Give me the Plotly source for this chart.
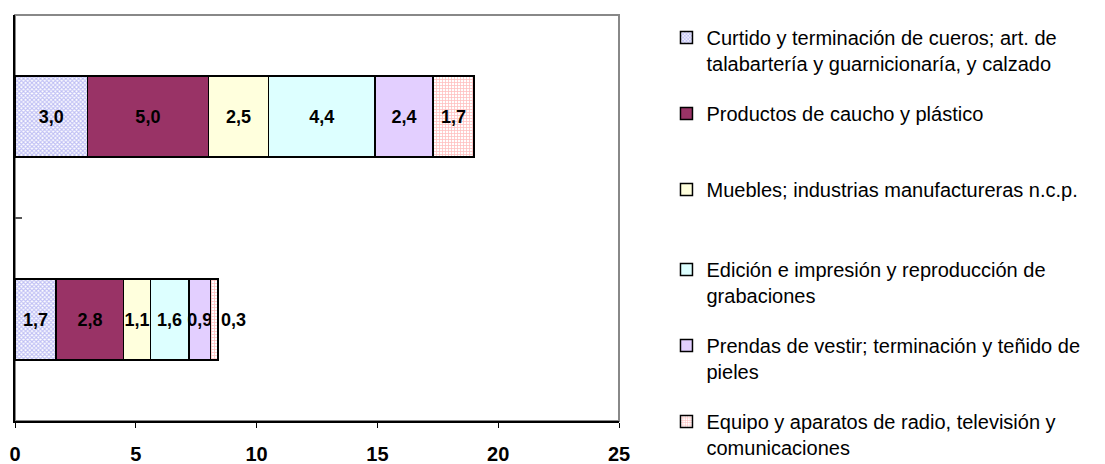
import plotly.graph_objects as go

categories = ["Serie B", "Serie A"]  # bottom bar, top bar
series_names = [
    "Curtido y terminación de cueros; art. de<br>talabartería y guarnicionaría, y calzado",
    "Productos de caucho y plástico",
    "Muebles; industrias manufactureras n.c.p.",
    "Edición e impresión y reproducción de<br>grabaciones",
    "Prendas de vestir; terminación y teñido de<br>pieles",
    "Equipo y aparatos de radio, televisión y<br>comunicaciones",
]
curtido = [1.7, 3.0]
caucho = [2.8, 5.0]
muebles = [1.1, 2.5]
edicion = [1.6, 4.4]
prendas = [0.9, 2.4]
equipo = [0.3, 1.7]
x_ticks = [0, 5, 10, 15, 20, 25]

series_values = [curtido, caucho, muebles, edicion, prendas, equipo]
fills = [
    dict(color="white", pattern=dict(shape="x", fgcolor="#7f7fea", bgcolor="white", size=3, solidity=0.6)),
    dict(color="#993366"),
    dict(color="#FFFFDD"),
    dict(color="#DDFFFF"),
    dict(color="#E3CFFF"),
    dict(color="white", pattern=dict(shape="+", fgcolor="#ff8080", bgcolor="white", size=3, solidity=0.45)),
]

FONT = "Arial, Liberation Sans, sans-serif"

fig = go.Figure()
for i, (name, vals, f) in enumerate(zip(series_names, series_values, fills)):
    label = name if "<br>" in name else name + "<br> "
    tpos = ["outside", "inside"] if i == len(series_names) - 1 else "inside"
    fig.add_trace(go.Bar(
        y=categories, x=vals, orientation="h", name=label,
        legend="legend" if i < 3 else "legend2",
        legendgroup=f"g{i}", legendrank=i + 1,
        marker=dict(line=dict(color="black", width=1.5), **f),
        texttemplate="%{x:.1f}", textposition=tpos, textangle=0,
        insidetextanchor="middle", constraintext="none", cliponaxis=False,
        textfont=dict(family=FONT, size=18, color="black", weight="bold"),
        hoverinfo="skip",
    ))

legend_common = dict(
    xanchor="left", yanchor="top",
    font=dict(family=FONT, size=20, color="black"),
    valign="top", tracegroupgap=21, traceorder="grouped",
    bgcolor="rgba(0,0,0,0)", itemwidth=30,
)

fig.update_layout(
    width=1105, height=464,
    margin=dict(l=15, r=486, t=15, b=43, autoexpand=False),
    barmode="stack", bargap=0.6,
    separators=",.",
    paper_bgcolor="white", plot_bgcolor="white",
    font=dict(family=FONT, color="black"),
    showlegend=True,
    legend=dict(x=1.0786, y=0.9926, **legend_common),
    legend2=dict(x=1.0786, y=0.4212, **legend_common),
    xaxis=dict(
        range=[0, 25], tickvals=x_ticks, ticks="outside", ticklen=5, tickwidth=1,
        tickcolor="black", showline=True, linecolor="black", linewidth=1.5,
        showgrid=False, zeroline=False, ticklabelstandoff=9, automargin=False,
        tickfont=dict(family=FONT, size=20, color="black", weight="bold"),
    ),
    yaxis=dict(
        showticklabels=False, ticks="inside", tickson="boundaries", ticklen=7,
        tickwidth=2, tickcolor="#555555", showline=True, linecolor="black", linewidth=1.5,
        showgrid=False, zeroline=False, automargin=False,
    ),
    shapes=[dict(type="rect", xref="paper", yref="paper", x0=0, x1=1, y0=0, y1=1,
                 line=dict(color="#888888", width=2), layer="below")],
)

fig.write_html(
    "out.html",
    config={"displayModeBar": False},
    post_script="document.body.style.margin='0';document.body.style.padding='0';",
)
